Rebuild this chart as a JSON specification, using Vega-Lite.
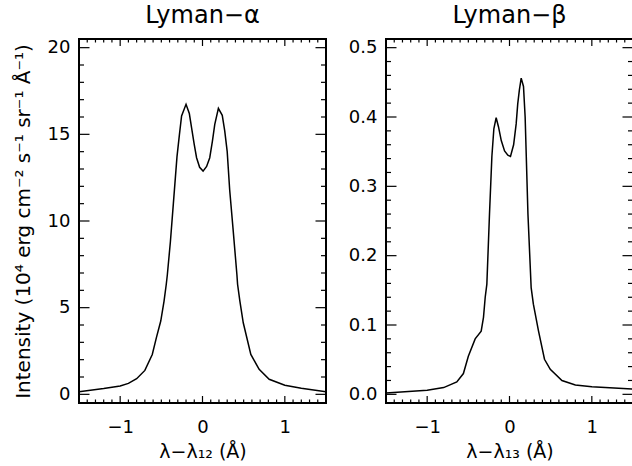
{
  "$schema": "https://vega.github.io/schema/vega-lite/v6.json",
  "padding": {"left": 12, "top": 2, "right": 0, "bottom": 0},
  "config": {
    "font": "DejaVu Sans",
    "view": {"stroke": "#000", "strokeWidth": 2},
    "axis": {"domain": false, "grid": false, "ticks": false, "tickSize": 0, "labelColor": "#000", "titleColor": "#000", "labelFontSize": 18, "titleFontSize": 19, "titleFontWeight": "normal", "labelFont": "DejaVu Sans", "titleFont": "DejaVu Sans"},
    "title": {"fontSize": 24, "fontWeight": "normal", "color": "#000", "font": "DejaVu Sans", "offset": 11},
    "line": {"color": "#000", "strokeWidth": 1.5},
    "tick": {"color": "#000", "opacity": 1, "thickness": 1.2}
  },
  "datasets": {
    "alpha": [
      {"x": -1.5, "y": 0.15}, {"x": -1.2, "y": 0.33}, {"x": -1.0, "y": 0.48}, {"x": -0.9, "y": 0.63}, {"x": -0.8, "y": 0.9}, {"x": -0.7, "y": 1.38}, {"x": -0.61, "y": 2.3}, {"x": -0.56, "y": 3.27}, {"x": -0.507, "y": 4.23}, {"x": -0.467, "y": 5.38}, {"x": -0.44, "y": 6.35}, {"x": -0.427, "y": 6.9}, {"x": -0.39, "y": 8.8}, {"x": -0.354, "y": 11.0}, {"x": -0.31, "y": 13.7}, {"x": -0.28, "y": 15.0}, {"x": -0.254, "y": 16.06}, {"x": -0.2, "y": 16.73}, {"x": -0.16, "y": 16.2}, {"x": -0.133, "y": 15.39}, {"x": -0.1, "y": 14.4}, {"x": -0.072, "y": 13.65}, {"x": -0.035, "y": 13.1}, {"x": 0.007, "y": 12.88}, {"x": 0.05, "y": 13.15}, {"x": 0.088, "y": 13.65}, {"x": 0.12, "y": 14.6}, {"x": 0.149, "y": 15.58}, {"x": 0.193, "y": 16.5}, {"x": 0.24, "y": 16.1}, {"x": 0.27, "y": 15.2}, {"x": 0.3, "y": 14.0}, {"x": 0.33, "y": 11.8}, {"x": 0.37, "y": 9.6}, {"x": 0.418, "y": 6.9}, {"x": 0.426, "y": 6.35}, {"x": 0.454, "y": 5.38}, {"x": 0.495, "y": 4.13}, {"x": 0.587, "y": 2.3}, {"x": 0.688, "y": 1.44}, {"x": 0.81, "y": 0.87}, {"x": 1.0, "y": 0.52}, {"x": 1.2, "y": 0.35}, {"x": 1.5, "y": 0.15}
    ],
    "beta": [
      {"x": -1.5, "y": 0.002}, {"x": -1.0, "y": 0.006}, {"x": -0.8, "y": 0.0097}, {"x": -0.64, "y": 0.018}, {"x": -0.56, "y": 0.03}, {"x": -0.5, "y": 0.055}, {"x": -0.417, "y": 0.08}, {"x": -0.344, "y": 0.091}, {"x": -0.316, "y": 0.111}, {"x": -0.295, "y": 0.14}, {"x": -0.275, "y": 0.159}, {"x": -0.243, "y": 0.26}, {"x": -0.214, "y": 0.343}, {"x": -0.19, "y": 0.383}, {"x": -0.162, "y": 0.399}, {"x": -0.134, "y": 0.386}, {"x": -0.1, "y": 0.366}, {"x": -0.06, "y": 0.351}, {"x": -0.02, "y": 0.345}, {"x": 0.012, "y": 0.343}, {"x": 0.05, "y": 0.36}, {"x": 0.081, "y": 0.39}, {"x": 0.1, "y": 0.419}, {"x": 0.12, "y": 0.439}, {"x": 0.142, "y": 0.456}, {"x": 0.17, "y": 0.444}, {"x": 0.19, "y": 0.4}, {"x": 0.224, "y": 0.26}, {"x": 0.263, "y": 0.154}, {"x": 0.29, "y": 0.13}, {"x": 0.352, "y": 0.0916}, {"x": 0.425, "y": 0.0506}, {"x": 0.495, "y": 0.036}, {"x": 0.637, "y": 0.02}, {"x": 0.8, "y": 0.0135}, {"x": 1.0, "y": 0.011}, {"x": 1.5, "y": 0.0077}
    ],
    "x_major": [{"v": -1}, {"v": 0}, {"v": 1}],
    "x_minor": [{"v": -1.4}, {"v": -1.3}, {"v": -1.2}, {"v": -1.1}, {"v": -0.9}, {"v": -0.8}, {"v": -0.7}, {"v": -0.6}, {"v": -0.5}, {"v": -0.4}, {"v": -0.3}, {"v": -0.2}, {"v": -0.1}, {"v": 0.1}, {"v": 0.2}, {"v": 0.3}, {"v": 0.4}, {"v": 0.5}, {"v": 0.6}, {"v": 0.7}, {"v": 0.8}, {"v": 0.9}, {"v": 1.1}, {"v": 1.2}, {"v": 1.3}, {"v": 1.4}],
    "ya_major": [{"v": 0}, {"v": 5}, {"v": 10}, {"v": 15}, {"v": 20}],
    "ya_minor": [{"v": 1}, {"v": 2}, {"v": 3}, {"v": 4}, {"v": 6}, {"v": 7}, {"v": 8}, {"v": 9}, {"v": 11}, {"v": 12}, {"v": 13}, {"v": 14}, {"v": 16}, {"v": 17}, {"v": 18}, {"v": 19}],
    "yb_major": [{"v": 0}, {"v": 0.1}, {"v": 0.2}, {"v": 0.3}, {"v": 0.4}, {"v": 0.5}],
    "yb_minor": [{"v": 0.02}, {"v": 0.04}, {"v": 0.06}, {"v": 0.08}, {"v": 0.12}, {"v": 0.14}, {"v": 0.16}, {"v": 0.18}, {"v": 0.22}, {"v": 0.24}, {"v": 0.26}, {"v": 0.28}, {"v": 0.32}, {"v": 0.34}, {"v": 0.36}, {"v": 0.38}, {"v": 0.42}, {"v": 0.44}, {"v": 0.46}, {"v": 0.48}]
  },
  "spacing": 20,
  "hconcat": [
    {
      "width": 247,
      "height": 364,
      "title": "Lyman−α",
      "layer": [
        {
          "data": {"name": "alpha"},
          "mark": {"type": "line", "clip": true},
          "encoding": {
            "x": {"field": "x", "type": "quantitative", "scale": {"domain": [-1.5, 1.5], "nice": false, "zero": false}, "axis": {"orient": "bottom", "values": [-1, 0, 1], "labelPadding": 15, "title": "λ−λ₁₂ (Å)", "titlePadding": 6, "format": "d"}},
            "y": {"field": "y", "type": "quantitative", "scale": {"domain": [-0.5, 20.5], "nice": false, "zero": false}, "axis": {"orient": "left", "values": [0, 5, 10, 15, 20], "labelPadding": 9, "title": "Intensity (10⁴ erg cm⁻² s⁻¹ sr⁻¹ Å⁻¹)", "titleFontSize": 20, "titlePadding": 14, "format": "d"}}
          }
        },
        {
          "data": {"name": "x_major"},
          "mark": {"type": "tick", "orient": "vertical", "size": 14, "clip": true},
          "encoding": {
            "x": {"field": "v", "type": "quantitative"},
            "y": {"datum": -0.5, "type": "quantitative"}
          }
        },
        {
          "data": {"name": "x_major"},
          "mark": {"type": "tick", "orient": "vertical", "size": 14, "clip": true},
          "encoding": {
            "x": {"field": "v", "type": "quantitative"},
            "y": {"datum": 20.5, "type": "quantitative"}
          }
        },
        {
          "data": {"name": "x_minor"},
          "mark": {"type": "tick", "orient": "vertical", "size": 7, "clip": true},
          "encoding": {
            "x": {"field": "v", "type": "quantitative"},
            "y": {"datum": -0.5, "type": "quantitative"}
          }
        },
        {
          "data": {"name": "x_minor"},
          "mark": {"type": "tick", "orient": "vertical", "size": 7, "clip": true},
          "encoding": {
            "x": {"field": "v", "type": "quantitative"},
            "y": {"datum": 20.5, "type": "quantitative"}
          }
        },
        {
          "data": {"name": "ya_major"},
          "mark": {"type": "tick", "orient": "horizontal", "size": 21, "clip": true},
          "encoding": {
            "y": {"field": "v", "type": "quantitative"},
            "x": {"datum": -1.5, "type": "quantitative"}
          }
        },
        {
          "data": {"name": "ya_major"},
          "mark": {"type": "tick", "orient": "horizontal", "size": 21, "clip": true},
          "encoding": {
            "y": {"field": "v", "type": "quantitative"},
            "x": {"datum": 1.5, "type": "quantitative"}
          }
        },
        {
          "data": {"name": "ya_minor"},
          "mark": {"type": "tick", "orient": "horizontal", "size": 10, "clip": true},
          "encoding": {
            "y": {"field": "v", "type": "quantitative"},
            "x": {"datum": -1.5, "type": "quantitative"}
          }
        },
        {
          "data": {"name": "ya_minor"},
          "mark": {"type": "tick", "orient": "horizontal", "size": 10, "clip": true},
          "encoding": {
            "y": {"field": "v", "type": "quantitative"},
            "x": {"datum": 1.5, "type": "quantitative"}
          }
        }
      ]
    },
    {
      "width": 247,
      "height": 364,
      "title": "Lyman−β",
      "layer": [
        {
          "data": {"name": "beta"},
          "mark": {"type": "line", "clip": true},
          "encoding": {
            "x": {"field": "x", "type": "quantitative", "scale": {"domain": [-1.5, 1.5], "nice": false, "zero": false}, "axis": {"orient": "bottom", "values": [-1, 0, 1], "labelPadding": 15, "title": "λ−λ₁₃ (Å)", "titlePadding": 6, "format": "d"}},
            "y": {"field": "y", "type": "quantitative", "scale": {"domain": [-0.0125, 0.5125], "nice": false, "zero": false}, "axis": {"orient": "left", "values": [0, 0.1, 0.2, 0.3, 0.4, 0.5], "labelPadding": 9, "title": null, "format": ".1f"}}
          }
        },
        {
          "data": {"name": "x_major"},
          "mark": {"type": "tick", "orient": "vertical", "size": 14, "clip": true},
          "encoding": {
            "x": {"field": "v", "type": "quantitative"},
            "y": {"datum": -0.0125, "type": "quantitative"}
          }
        },
        {
          "data": {"name": "x_major"},
          "mark": {"type": "tick", "orient": "vertical", "size": 14, "clip": true},
          "encoding": {
            "x": {"field": "v", "type": "quantitative"},
            "y": {"datum": 0.5125, "type": "quantitative"}
          }
        },
        {
          "data": {"name": "x_minor"},
          "mark": {"type": "tick", "orient": "vertical", "size": 7, "clip": true},
          "encoding": {
            "x": {"field": "v", "type": "quantitative"},
            "y": {"datum": -0.0125, "type": "quantitative"}
          }
        },
        {
          "data": {"name": "x_minor"},
          "mark": {"type": "tick", "orient": "vertical", "size": 7, "clip": true},
          "encoding": {
            "x": {"field": "v", "type": "quantitative"},
            "y": {"datum": 0.5125, "type": "quantitative"}
          }
        },
        {
          "data": {"name": "yb_major"},
          "mark": {"type": "tick", "orient": "horizontal", "size": 21, "clip": true},
          "encoding": {
            "y": {"field": "v", "type": "quantitative"},
            "x": {"datum": -1.5, "type": "quantitative"}
          }
        },
        {
          "data": {"name": "yb_major"},
          "mark": {"type": "tick", "orient": "horizontal", "size": 21, "clip": true},
          "encoding": {
            "y": {"field": "v", "type": "quantitative"},
            "x": {"datum": 1.5, "type": "quantitative"}
          }
        },
        {
          "data": {"name": "yb_minor"},
          "mark": {"type": "tick", "orient": "horizontal", "size": 10, "clip": true},
          "encoding": {
            "y": {"field": "v", "type": "quantitative"},
            "x": {"datum": -1.5, "type": "quantitative"}
          }
        },
        {
          "data": {"name": "yb_minor"},
          "mark": {"type": "tick", "orient": "horizontal", "size": 10, "clip": true},
          "encoding": {
            "y": {"field": "v", "type": "quantitative"},
            "x": {"datum": 1.5, "type": "quantitative"}
          }
        }
      ]
    }
  ]
}
